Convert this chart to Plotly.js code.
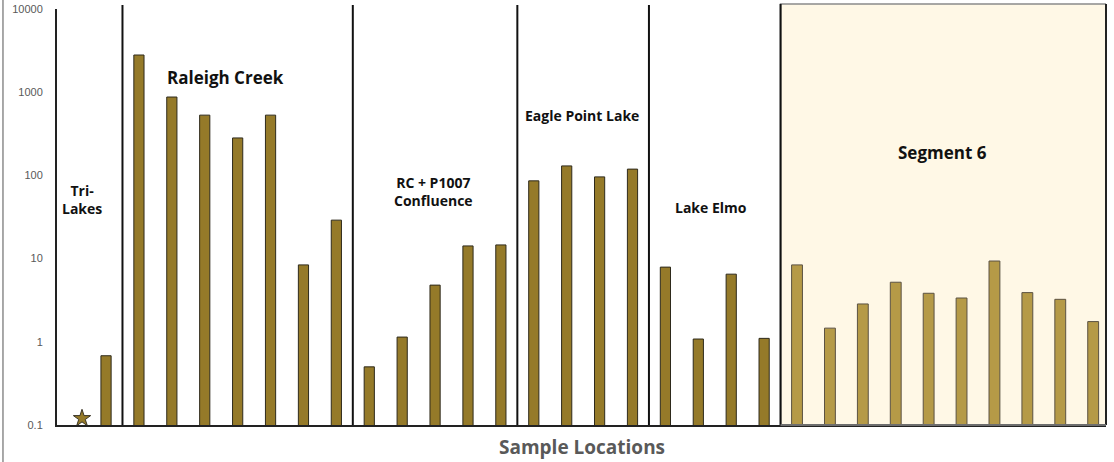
<!DOCTYPE html>
<html>
<head>
<meta charset="utf-8">
<script src="https://cdn.plot.ly/plotly-3.0.1.min.js"></script>
<style>html,body{margin:0;padding:0;background:#fff;}#chart{width:1114px;height:462px;}</style>
</head>
<body>
<div id="chart"></div>
<script>
// Sample positions (category index along the x axis) and values
var mainX = [1, 2, 3, 4, 5, 6, 7, 8, 9, 10, 11, 12, 13, 14, 15, 16, 17, 18, 19, 20, 21];
var mainValues = [0.68, 2800, 875, 530, 282, 530, 8.4, 29, 0.50, 1.14, 4.8, 14.2, 14.6, 86, 130, 96, 119, 7.9, 1.08, 6.5, 1.1];
var seg6X = [22, 23, 24, 25, 26, 27, 28, 29, 30, 31];
var seg6Values = [8.4, 1.46, 2.85, 5.2, 3.83, 3.36, 9.35, 3.9, 3.24, 1.75];
var starX = [0.27];
var starValues = [0.12];
var groupBoundaries = [1.5, 8.5, 13.5, 17.5];
var seg6Start = 21.5;
var yTickVals = [0.1, 1, 10, 100, 1000, 10000];
var yTickText = ["0.1", "1", "10", "100", "1000", "10000"];
var groupLabels = ["Tri-<br>Lakes", "Raleigh Creek", "RC + P1007<br>Confluence", "Eagle Point Lake", "Lake Elmo", "Segment 6"];

var FONT = "'Open Sans', 'Noto Sans', sans-serif";

var traces = [
  {type: 'bar', x: mainX, y: mainValues, width: 0.31,
   marker: {color: '#957A29', line: {color: '#2e2a1c', width: 1}}, hoverinfo: 'y'},
  {type: 'bar', x: seg6X, y: seg6Values, width: 0.33,
   marker: {color: '#B59A47', line: {color: '#5b5243', width: 1}}, hoverinfo: 'y'},
  {type: 'scatter', mode: 'markers', x: starX, y: starValues,
   marker: {symbol: 'star', size: 13, color: '#957A29', line: {color: '#3a3528', width: 1}}, hoverinfo: 'y'}
];

var shapes = [
  {type: 'rect', xref: 'x', yref: 'paper', x0: seg6Start, x1: 31.39, y0: 0, y1: 1.012,
   fillcolor: '#FFF8E6', line: {color: '#8a8a8a', width: 1.5}, layer: 'below'},
  {type: 'line', xref: 'paper', yref: 'paper', x0: 1, x1: 1, y0: 0, y1: 1.012,
   line: {color: '#222', width: 2}},
  {type: 'line', xref: 'x', yref: 'paper', x0: seg6Start, x1: seg6Start, y0: 0, y1: 1.012,
   line: {color: '#111', width: 2}},
  {type: 'line', xref: 'x', yref: 'paper', x0: seg6Start, x1: 31.39, y0: 0, y1: 0,
   line: {color: '#6e6e6e', width: 2}},
  {type: 'line', xref: 'paper', yref: 'paper', x0: -0.0515, x1: -0.0515, y0: -0.09, y1: 1.03,
   line: {color: '#8c8c8c', width: 1.5}}
];
groupBoundaries.forEach(function (b) {
  shapes.push({type: 'line', xref: 'x', yref: 'paper', x0: b, x1: b, y0: 0, y1: 1.0096,
    line: {color: '#111', width: 2}});
});

function lbl(text, x, y, size) {
  return {text: '<b>' + text + '</b>', xref: 'paper', yref: 'paper', x: x, y: y,
    showarrow: false, xanchor: 'center', yanchor: 'middle',
    font: {family: FONT, size: size, color: '#111'}};
}
var annotations = [
  lbl(groupLabels[0], 0.0238, 0.541, 14),
  lbl(groupLabels[1], 0.161, 0.8365, 17),
  lbl(groupLabels[2], 0.359, 0.5625, 14),
  lbl(groupLabels[3], 0.5005, 0.745, 14),
  lbl(groupLabels[4], 0.6235, 0.524, 14),
  lbl(groupLabels[5], 0.8446, 0.654, 17),
  {text: '<b>Sample Locations</b>', xref: 'paper', yref: 'paper', x: 0.5, y: -0.053,
   showarrow: false, xanchor: 'center', yanchor: 'middle',
   font: {family: FONT, size: 19, color: '#595959'}}
];

var layout = {
  width: 1114, height: 462,
  margin: {l: 57, r: 8, t: 9, b: 37, pad: 0},
  paper_bgcolor: '#ffffff', plot_bgcolor: 'rgba(0,0,0,0)',
  showlegend: false,
  bargap: 0,
  xaxis: {range: [-0.49, 31.39], showgrid: false, zeroline: false, showticklabels: false,
    ticks: '', showline: true, linecolor: '#222', linewidth: 2, fixedrange: true},
  yaxis: {type: 'log', range: [-1, 4], showgrid: false, zeroline: false,
    tickvals: yTickVals, ticktext: yTickText, ticks: '', ticklabelstandoff: 10,
    tickfont: {family: "'Liberation Sans', Arial, sans-serif", size: 11, color: '#595959'},
    showline: true, linecolor: '#222', linewidth: 2, fixedrange: true},
  shapes: shapes,
  annotations: annotations
};

Plotly.newPlot('chart', traces, layout, {displayModeBar: false, staticPlot: true});
</script>
</body>
</html>
